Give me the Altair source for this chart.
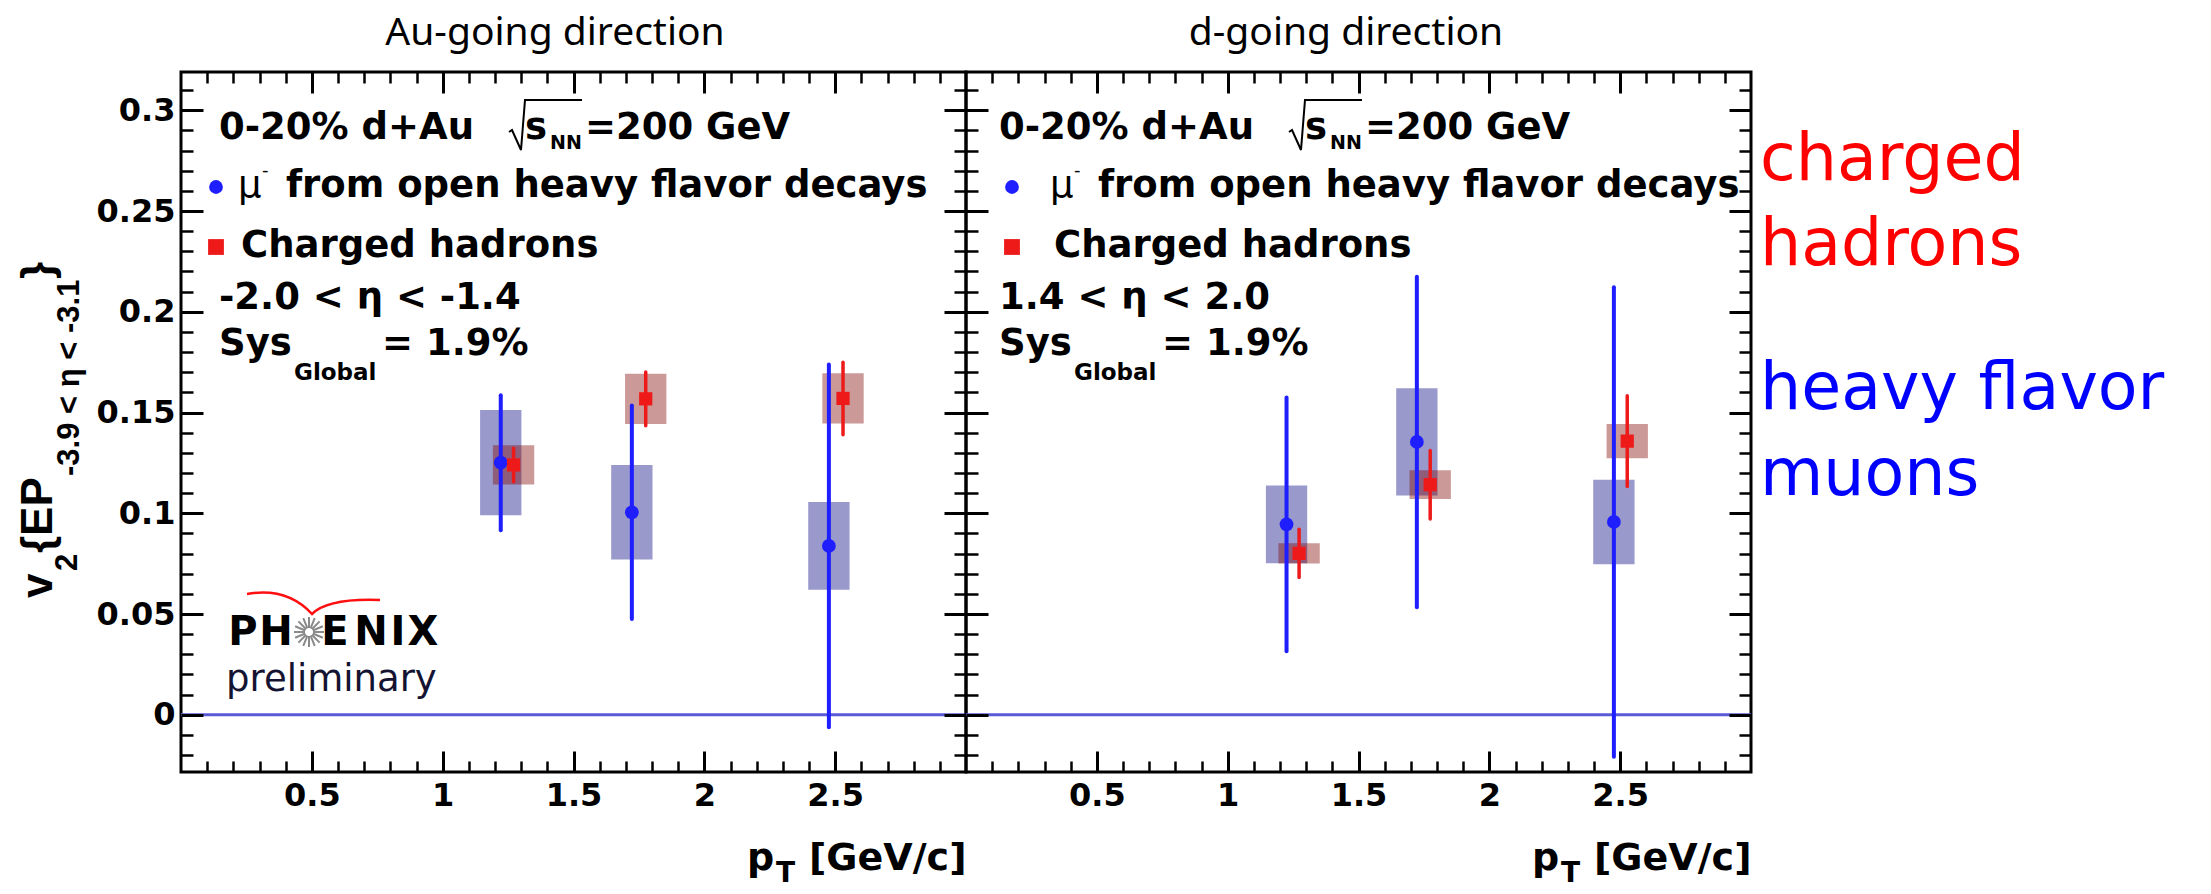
import math
import altair as alt
import pandas as pd

# ---------------- data ----------------
panel_titles = ["Au-going direction", "d-going direction"]
eta_ranges = ["-2.0 < η < -1.4", "1.4 < η < 2.0"]

# heavy-flavour muons (blue) and charged hadrons (red), Au-going direction
hf_au_pt = [1.222, 1.723, 2.476]
hf_au_v2 = [0.1251, 0.1005, 0.0838]
hf_au_stat = [0.0335, 0.0530, 0.0900]
hf_au_sys = [0.0261, 0.0234, 0.0218]
ch_au_pt = [1.271, 1.776, 2.530]
ch_au_v2 = [0.1240, 0.1568, 0.1570]
ch_au_stat = [0.0083, 0.0133, 0.0180]
ch_au_sys = [0.0097, 0.0125, 0.0125]

# d-going direction
hf_d_pt = [1.225, 1.723, 2.476]
hf_d_v2 = [0.0945, 0.1354, 0.0957]
hf_d_stat = [0.0630, 0.0820, 0.1165]
hf_d_sys = [0.0193, 0.0266, 0.0210]
ch_d_pt = [1.273, 1.774, 2.527]
ch_d_v2 = [0.0801, 0.1142, 0.1358]
ch_d_stat = [0.0120, 0.0170, 0.0225]
ch_d_sys = [0.0050, 0.0071, 0.0085]

x_domain = [0.0, 3.0]
y_domain = [-0.0284, 0.319]
x_major = [0.5, 1.0, 1.5, 2.0, 2.5]
x_minor = [0.1, 0.2, 0.3, 0.4, 0.6, 0.7, 0.8, 0.9, 1.1, 1.2, 1.3, 1.4,
           1.6, 1.7, 1.8, 1.9, 2.1, 2.2, 2.3, 2.4, 2.6, 2.7, 2.8, 2.9]
y_major = [0.0, 0.05, 0.1, 0.15, 0.2, 0.25, 0.3]
y_minor = [-0.02, -0.01, 0.01, 0.02, 0.03, 0.04, 0.06, 0.07, 0.08, 0.09,
           0.11, 0.12, 0.13, 0.14, 0.16, 0.17, 0.18, 0.19, 0.21, 0.22,
           0.23, 0.24, 0.26, 0.27, 0.28, 0.29, 0.31]

# ---------------- style ----------------
W, H = 785, 700
FONT = "DejaVu Sans"
BLUE = "#1e1eff"
RED = "#ee1a1a"
HALF = 0.079  # half width of systematic boxes (pT units)
XS = alt.Scale(domain=x_domain, nice=False, zero=False)
YS = alt.Scale(domain=y_domain, nice=False, zero=False)
ONE = alt.Data(values=[{"a": 1}])

# PHENIX logo star (shape style)
_sp = []
for k in range(16):
    a = math.pi * k / 8
    _sp.append("M %.2f %.2f L %.2f %.2f" % (4 * math.cos(a), 4 * math.sin(a),
                                          15 * math.cos(a), 15 * math.sin(a)))
STAR = " ".join(_sp)
SWOOSH = "M -65 -8 Q -25 -15 0 12 Q 16 -4 68 -2"
RADICAL = "M 0 32 L 3 30 L 12 50 L 16 0 L 73 0"


def frame(pt, v2, stat, sys):
    return pd.DataFrame({"pt": pt, "v2": v2, "stat": stat, "sys": sys})


def boxes(df, color):
    return alt.Chart(df).transform_calculate(
        xlo="datum.pt - %f" % HALF, xhi="datum.pt + %f" % HALF,
        ylo="datum.v2 - datum.sys", yhi="datum.v2 + datum.sys",
    ).mark_rect(color=color, opacity=0.4).encode(
        x=alt.X("xlo:Q", scale=XS, axis=None), x2="xhi:Q",
        y=alt.Y("ylo:Q", scale=YS, axis=None), y2="yhi:Q")


def errbars(df, color, width):
    return alt.Chart(df).transform_calculate(
        lo="datum.v2 - datum.stat", hi="datum.v2 + datum.stat",
    ).mark_rule(color=color, strokeWidth=width, strokeCap="round").encode(
        x=alt.X("pt:Q", scale=XS, axis=None),
        y=alt.Y("lo:Q", scale=YS, axis=None), y2="hi:Q")


def points(df, shape, color, size):
    return alt.Chart(df).mark_point(shape=shape, filled=True, color=color,
                                    size=size, opacity=1).encode(
        x=alt.X("pt:Q", scale=XS, axis=None),
        y=alt.Y("v2:Q", scale=YS, axis=None))


def ax(orient, values, size, width, labels=False, pad=6):
    kw = dict(orient=orient, values=values, tickSize=size, tickWidth=width,
              offset=-size, tickColor="black", domain=False, grid=False,
              title=None, labels=labels, zindex=2)
    if labels:
        kw.update(labelFont=FONT, labelFontWeight="bold", labelFontSize=32,
                  labelColor="black", format="~g", labelPadding=pad,
                  labelFlush=False, labelOverlap=False)
    return alt.Axis(**kw)


def axis_layer(df, xaxis, yaxis):
    return alt.Chart(df).mark_point(opacity=0, size=1).encode(
        x=alt.X("pt:Q", scale=XS, axis=xaxis),
        y=alt.Y("v2:Q", scale=YS, axis=yaxis))


def txt(s, x, y, size, color="black", weight="bold", font=FONT,
        align="left", angle=None):
    props = dict(text=s, font=font, fontSize=size, fontWeight=weight,
                 color=color, align=align, baseline="alphabetic")
    if angle is not None:
        props["angle"] = angle
    return alt.Chart(ONE).mark_text(**props).encode(x=alt.value(x), y=alt.value(y))


def sym(shape, x, y, size, color, filled=True, sw=2):
    props = dict(shape=shape, size=size, color=color, filled=filled, opacity=1)
    if not filled:
        props["strokeWidth"] = sw
    return alt.Chart(ONE).mark_point(**props).encode(x=alt.value(x), y=alt.value(y))


def panel(hf, ch, title, tcx, eta, p, left):
    layers = [
        alt.Chart(ONE).mark_rule(color="#5a5ad6", strokeWidth=3).encode(
            y=alt.YDatum(0, scale=YS, axis=None)),
        boxes(hf, "#00007f"),
        boxes(ch, "#7f0000"),
        errbars(hf, BLUE, 4),
        points(hf, "circle", BLUE, 190),
        errbars(ch, RED, 3.5),
        points(ch, "square", RED, 175),
        axis_layer(hf, ax("bottom", x_major, 21, 3, labels=True, pad=8),
                   ax("left", y_major, 22, 3, labels=left, pad=6)),
        axis_layer(hf, ax("bottom", x_minor, 11, 2.5), ax("left", y_minor, 12, 2.5)),
        axis_layer(hf, ax("top", x_major, 21, 3), ax("right", y_major, 22, 3)),
        axis_layer(hf, ax("top", x_minor, 11, 2.5), ax("right", y_minor, 12, 2.5)),
        # panel title
        txt(title, tcx, -27, 39, weight="normal", font="Noto Sans", align="center"),
        # annotation block
        txt("0-20% d+Au", p["x0"], 67, 37),
        sym(RADICAL, p["x0"] + 290, 28, 4, "black", filled=False, sw=2),
        txt("s", p["x0"] + 306, 67, 37),
        txt("NN", p["x0"] + 331, 77, 19),
        txt("=200 GeV", p["x0"] + 366, 67, 37),
        sym("circle", p["mk"], 115, 190, BLUE),
        txt("μ", p["mu"], 125, 37, weight="normal"),
        txt("-", p["mu"] + 24, 104, 18, weight="normal"),
        txt("from open heavy flavor decays", p["frm"], 125, 37),
        sym("square", p["mk"], 175, 250, RED),
        txt("Charged hadrons", p["chg"], 185, 37),
        txt(eta, p["x0"], 237, 37),
        txt("Sys", p["x0"], 283, 37),
        txt("Global", p["x0"] + 75, 308, 23),
        txt("= 1.9%", p["x0"] + 163, 283, 37),
        # x-axis title
        txt("p", 566, 798, 38),
        txt("T", 595, 810, 28),
        txt("[GeV/c]", 628, 798, 38),
    ]
    if left:
        layers += [
            # y-axis title pieces (rotated)
            txt("v", -129, 526, 44, font="Liberation Sans", angle=270),
            txt("2", -104, 499, 31, font="Liberation Sans", angle=270),
            txt("{EP", -129, 481, 44, font="Liberation Sans", angle=270),
            txt("-3.9 < η < -3.1", -102, 404, 31, font="Liberation Sans", angle=270),
            txt("}", -129, 207, 44, font="Liberation Sans", angle=270),
            # PHENIX preliminary logo
            sym(SWOOSH, 131, 530, 4, "#ff1010", filled=False, sw=2.5),
            sym(STAR, 128, 560, 4, "#8a8a8a", filled=False, sw=2),
            txt("P", 62, 573, 40, align="center"),
            txt("H", 95, 573, 40, align="center"),
            txt("E", 154, 573, 40, align="center"),
            txt("N", 190, 573, 40, align="center"),
            txt("I", 217, 573, 40, align="center"),
            txt("X", 242, 573, 40, align="center"),
            txt("preliminary", 45, 619, 37, weight="normal", color="#141432"),
            # anchor fixing the top-left corner of the picture
            alt.Chart(ONE).mark_point(opacity=0, size=1, filled=True).encode(
                x=alt.value(-179), y=alt.value(-70)),
        ]
    else:
        layers += [
            txt("charged", 794, 108, 65, color="#ff0000", weight="normal"),
            txt("hadrons", 794, 193, 65, color="#ff0000", weight="normal"),
            txt("heavy flavor", 794, 337, 65, color="#0000ff", weight="normal"),
            txt("muons", 794, 423, 65, color="#0000ff", weight="normal"),
        ]
    return alt.layer(*layers).properties(width=W, height=H).resolve_axis(
        x="independent", y="independent")


left = panel(frame(hf_au_pt, hf_au_v2, hf_au_stat, hf_au_sys),
             frame(ch_au_pt, ch_au_v2, ch_au_stat, ch_au_sys),
             panel_titles[0], 374, eta_ranges[0],
             dict(x0=38, mk=35, mu=57, frm=105, chg=60), True)
right = panel(frame(hf_d_pt, hf_d_v2, hf_d_stat, hf_d_sys),
              frame(ch_d_pt, ch_d_v2, ch_d_stat, ch_d_sys),
              panel_titles[1], 380, eta_ranges[1],
              dict(x0=33, mk=46, mu=84, frm=132, chg=88), False)

chart = alt.hconcat(left, right, spacing=0, bounds="flush").properties(
    padding=0).configure_view(stroke="black", strokeWidth=3)

chart.save("out.html", embed_options={"renderer": "svg", "actions": False})
